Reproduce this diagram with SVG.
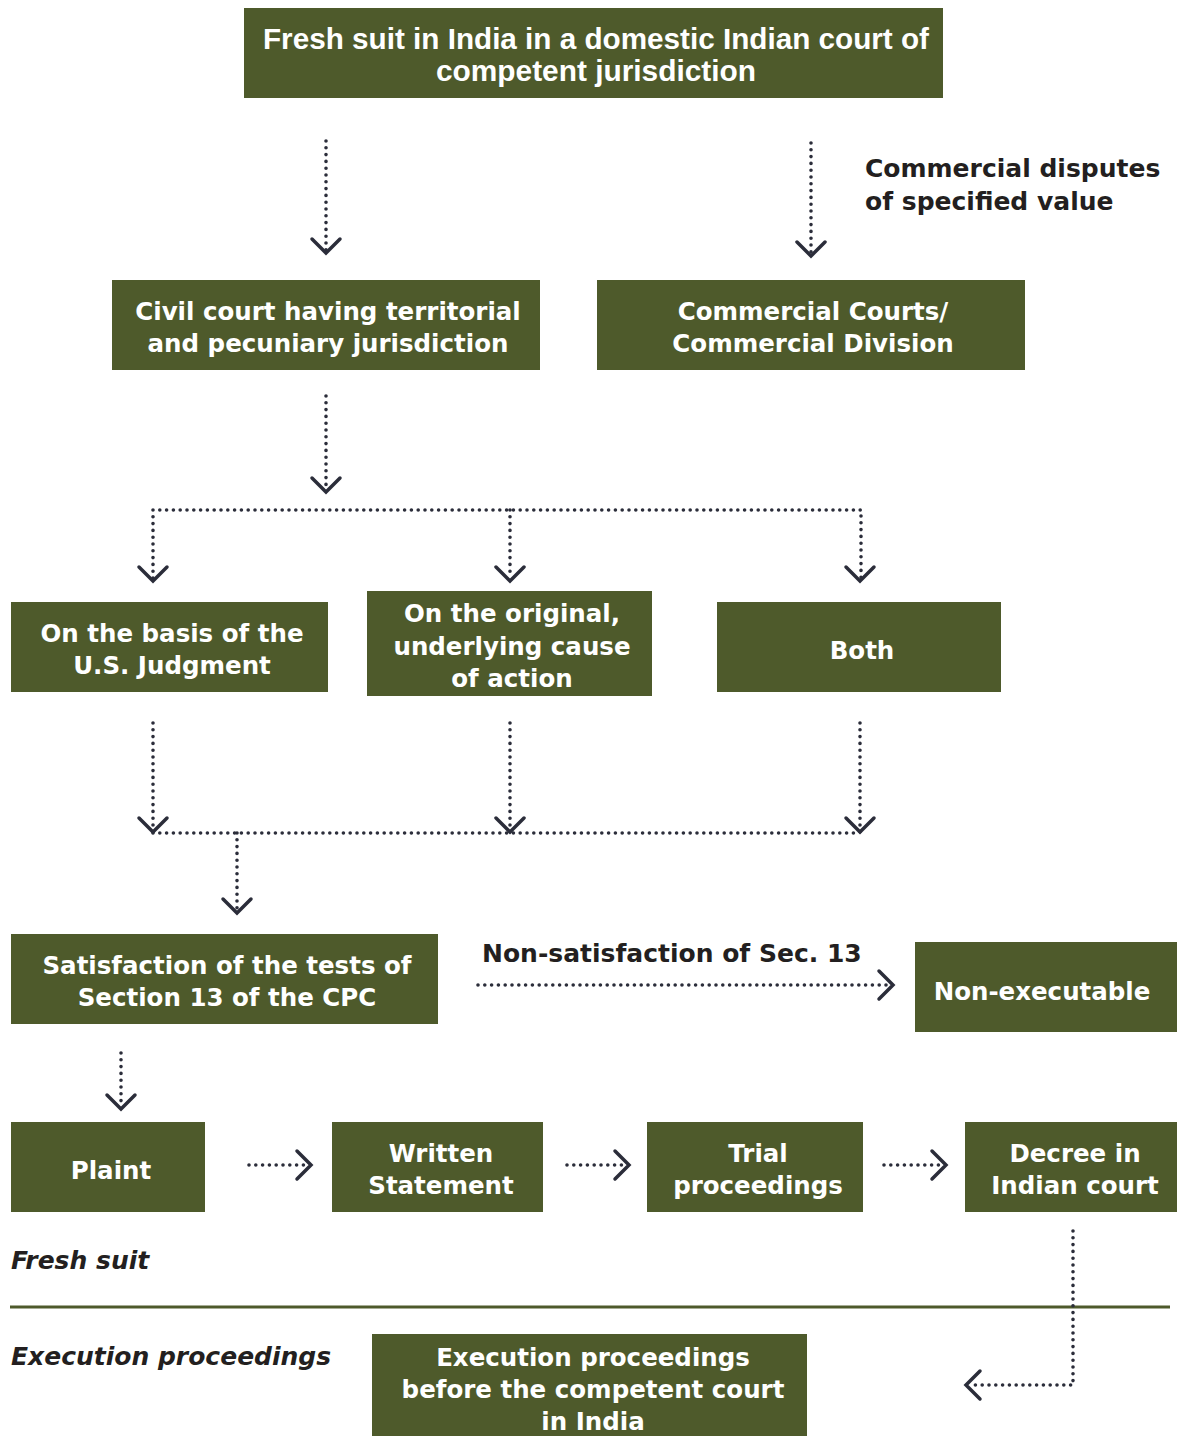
<svg xmlns="http://www.w3.org/2000/svg" width="1178" height="1437" viewBox="0 0 1178 1437">
<style>
.box{fill:#4e5a2b}
.bt{fill:#ffffff;font-family:"DejaVu Sans",sans-serif;font-weight:bold;font-size:24.5px;text-anchor:middle}
.tt{fill:#ffffff;font-family:"Liberation Sans",Arial,sans-serif;font-weight:bold;font-size:30px;text-anchor:middle}
.lb{fill:#231f20;font-family:"DejaVu Sans",sans-serif;font-weight:bold;font-size:25px}
.it{fill:#231f20;font-family:"DejaVu Sans",sans-serif;font-weight:bold;font-style:italic;font-size:25px}
.dot{fill:none;stroke:#2b2d3a;stroke-width:3.6;stroke-linecap:round;stroke-dasharray:0 6.8}
.hd{fill:none;stroke:#2b2d3a;stroke-width:3.5;stroke-linecap:round;stroke-linejoin:miter}
</style>
<rect width="1178" height="1437" fill="#ffffff"/>

<g id="n-fresh">
<rect class="box" x="244" y="8" width="699" height="90"/>
<text class="tt" x="596" y="49" textLength="666" lengthAdjust="spacingAndGlyphs">Fresh suit in India in a domestic Indian court of</text>
<text class="tt" x="596" y="81" textLength="320" lengthAdjust="spacingAndGlyphs">competent jurisdiction</text>
</g>

<g id="n-commercial-label">
<text class="lb" x="865" y="177">Commercial disputes</text>
<text class="lb" x="865" y="210">of specified value</text>
</g>

<g id="n-civil">
<rect class="box" x="112" y="280" width="428" height="90"/>
<text class="bt" x="328" y="320">Civil court having territorial</text>
<text class="bt" x="328" y="352">and pecuniary jurisdiction</text>
</g>

<g id="n-commercial">
<rect class="box" x="597" y="280" width="428" height="90"/>
<text class="bt" x="813" y="320">Commercial Courts/</text>
<text class="bt" x="813" y="352">Commercial Division</text>
</g>

<g id="n-usjudgment">
<rect class="box" x="11" y="602" width="317" height="90"/>
<text class="bt" x="172" y="642">On the basis of the</text>
<text class="bt" x="172" y="674">U.S. Judgment</text>
</g>

<g id="n-original">
<rect class="box" x="367" y="591" width="285" height="105"/>
<text class="bt" x="512" y="622">On the original,</text>
<text class="bt" x="512" y="655">underlying cause</text>
<text class="bt" x="512" y="687">of action</text>
</g>

<g id="n-both">
<rect class="box" x="717" y="602" width="284" height="90"/>
<text class="bt" x="862" y="659">Both</text>
</g>

<g id="n-satisfaction">
<rect class="box" x="11" y="934" width="427" height="90"/>
<text class="bt" x="227" y="974">Satisfaction of the tests of</text>
<text class="bt" x="227" y="1006">Section 13 of the CPC</text>
</g>

<g id="n-nonsat-label">
<text class="lb" x="482" y="962">Non-satisfaction of Sec. 13</text>
</g>

<g id="n-nonexec">
<rect class="box" x="915" y="942" width="262" height="90"/>
<text class="bt" x="1042" y="1000">Non-executable</text>
</g>

<g id="n-plaint">
<rect class="box" x="11" y="1122" width="194" height="90"/>
<text class="bt" x="111" y="1179">Plaint</text>
</g>

<g id="n-written">
<rect class="box" x="332" y="1122" width="211" height="90"/>
<text class="bt" x="441" y="1162">Written</text>
<text class="bt" x="441" y="1194">Statement</text>
</g>

<g id="n-trial">
<rect class="box" x="647" y="1122" width="216" height="90"/>
<text class="bt" x="758" y="1162">Trial</text>
<text class="bt" x="758" y="1194">proceedings</text>
</g>

<g id="n-decree">
<rect class="box" x="965" y="1122" width="212" height="90"/>
<text class="bt" x="1075" y="1162">Decree in</text>
<text class="bt" x="1075" y="1194">Indian court</text>
</g>

<g id="n-section-labels">
<text class="it" x="11" y="1269">Fresh suit</text>
<line x1="10" y1="1307" x2="1170" y2="1307" stroke="#4e5a2b" stroke-width="3"/>
<text class="it" x="11" y="1365">Execution proceedings</text>
</g>

<g id="n-execution">
<rect class="box" x="372" y="1334" width="435" height="102"/>
<text class="bt" x="593" y="1366">Execution proceedings</text>
<text class="bt" x="593" y="1398">before the competent court</text>
<text class="bt" x="593" y="1430">in India</text>
</g>

<g id="connectors">
<path class="dot" d="M326 141 V250"/>
<path class="hd" d="M312 239 L326 253 L340 239"/>
<path class="dot" d="M811 143 V253"/>
<path class="hd" d="M797 242 L811 256 L825 242"/>
<path class="dot" d="M326 396 V489"/>
<path class="hd" d="M312 478 L326 492 L340 478"/>
<path class="dot" d="M153 578 V510 H861 V578"/>
<path class="dot" d="M510 510 V578"/>
<path class="hd" d="M139 567 L153 581 L167 567"/>
<path class="hd" d="M496 567 L510 581 L524 567"/>
<path class="hd" d="M846 567 L860 581 L874 567"/>
<path class="dot" d="M153 723 V833"/>
<path class="dot" d="M510 723 V833"/>
<path class="dot" d="M860 723 V833"/>
<path class="hd" d="M139 818 L153 832 L167 818"/>
<path class="hd" d="M496 818 L510 832 L524 818"/>
<path class="hd" d="M846 818 L860 832 L874 818"/>
<path class="dot" d="M153 833 H860"/>
<path class="dot" d="M237 833 V910"/>
<path class="hd" d="M223 899 L237 913 L251 899"/>
<path class="dot" d="M478 985 H890"/>
<path class="hd" d="M879 971 L893 985 L879 999"/>
<path class="dot" d="M121 1053 V1106"/>
<path class="hd" d="M107 1095 L121 1109 L135 1095"/>
<path class="dot" d="M249 1165 H308"/>
<path class="hd" d="M297 1151 L311 1165 L297 1179"/>
<path class="dot" d="M567 1165 H626"/>
<path class="hd" d="M615 1151 L629 1165 L615 1179"/>
<path class="dot" d="M884 1165 H943"/>
<path class="hd" d="M932 1151 L946 1165 L932 1179"/>
<path class="dot" d="M1073 1231 V1385 H970"/>
<path class="hd" d="M980 1371 L966 1385 L980 1399"/>
</g>
</svg>
